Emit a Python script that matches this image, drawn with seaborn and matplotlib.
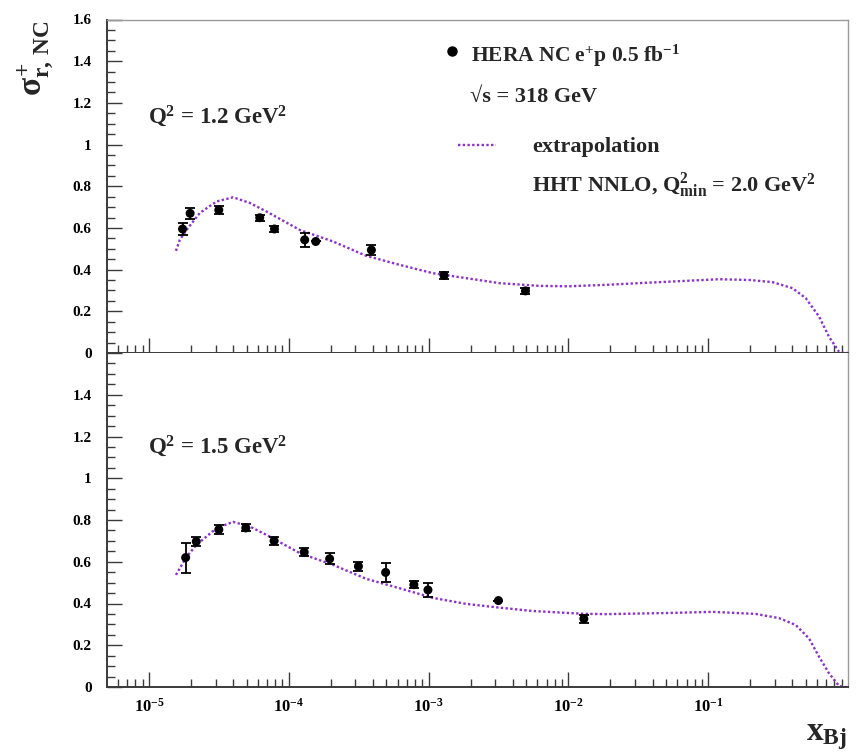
import matplotlib
matplotlib.use("Agg")
import matplotlib.pyplot as plt
import matplotlib.ticker as mticker
from matplotlib.lines import Line2D
import numpy as np
import seaborn as sns

# HERA data points
x_q12 = [1.74e-5, 1.97e-5, 3.16e-5, 6.2e-5, 7.9e-5, 1.3e-4, 1.56e-4, 3.9e-4, 1.29e-3, 4.93e-3]
y_q12 = [0.595, 0.67, 0.686, 0.649, 0.595, 0.543, 0.535, 0.494, 0.372, 0.298]
err_q12 = [0.03, 0.026, 0.02, 0.015, 0.015, 0.034, 0.0, 0.024, 0.015, 0.015]

x_q15 = [1.83e-5, 2.18e-5, 3.16e-5, 4.93e-5, 7.85e-5, 1.29e-4, 1.96e-4, 3.15e-4,
         4.93e-4, 7.85e-4, 9.9e-4, 3.16e-3, 1.29e-2]
y_q15 = [0.62, 0.697, 0.754, 0.762, 0.70, 0.646, 0.614, 0.578, 0.549, 0.49, 0.465, 0.414, 0.327]
err_q15 = [0.072, 0.022, 0.022, 0.017, 0.02, 0.02, 0.026, 0.02, 0.045, 0.017, 0.032, 0.0, 0.02]

# extrapolation curves (log10 x, sigma)
logx_c12 = [-4.807, -4.779, -4.73, -4.636, -4.516, -4.398, -4.279, -4.16, -3.92, -3.683,
            -3.445, -3.207, -2.97, -2.73, -2.49, -2.207, -2.0, -1.73, -1.5, -1.255,
            -0.92, -0.7, -0.54, -0.397, -0.302, -0.207, -0.136, -0.064, -0.03, 0.0]
y_c12 = [0.49, 0.543, 0.591, 0.672, 0.727, 0.747, 0.72, 0.679, 0.59, 0.535,
         0.466, 0.423, 0.383, 0.359, 0.335, 0.322, 0.32, 0.327, 0.335, 0.343,
         0.354, 0.35, 0.34, 0.311, 0.263, 0.175, 0.078, 0.006, 0.0, 0.0]

logx_c15 = [-4.807, -4.73, -4.66, -4.516, -4.398, -4.279, -4.16, -3.92, -3.683, -3.445,
            -3.207, -2.97, -2.73, -2.49, -2.256, -1.9, -1.73, -1.255, -0.97, -0.66,
            -0.493, -0.374, -0.279, -0.207, -0.136, -0.064, -0.03, 0.0]
y_c15 = [0.537, 0.625, 0.681, 0.761, 0.791, 0.769, 0.729, 0.641, 0.585, 0.518,
         0.473, 0.427, 0.398, 0.38, 0.364, 0.351, 0.349, 0.355, 0.36, 0.35,
         0.33, 0.297, 0.233, 0.145, 0.066, 0.005, 0.0, 0.0]

decades = [1e-5, 1e-4, 1e-3, 1e-2, 1e-1]
decade_labels = ["$10^{-5}$", "$10^{-4}$", "$10^{-3}$", "$10^{-2}$", "$10^{-1}$"]
y_major = [0, 0.2, 0.4, 0.6, 0.8, 1.0, 1.2, 1.4, 1.6]

purple = "#8c2fd0"
dark = "#3a3a3a"

sns.set_theme(style="ticks")
plt.rcParams["font.family"] = ["Liberation Serif", "DejaVu Serif"]
plt.rcParams["font.weight"] = "bold"
plt.rcParams["mathtext.fontset"] = "custom"
plt.rcParams["mathtext.rm"] = "Liberation Serif:bold"
plt.rcParams["mathtext.it"] = "Liberation Serif:bold"
plt.rcParams["mathtext.bf"] = "Liberation Serif:bold"
plt.rcParams["mathtext.sf"] = "Liberation Serif:bold"

fig = plt.figure(figsize=(8.59, 7.55), dpi=100)
W, H = 859, 755
left, right = 107 / W, 848 / W
ax_t = fig.add_axes([left, 1 - 353 / H, right - left, (353 - 19.5) / H])
ax_b = fig.add_axes([left, 1 - 687 / H, right - left, (687 - 353) / H])


def style_axis(ax, show_xlabels, ylabels):
    ax.set_xscale("log")
    ax.set_xlim(10 ** -5.3, 1.0)
    ax.set_ylim(0, 1.6)
    ax.xaxis.set_major_locator(mticker.FixedLocator(decades))
    ax.xaxis.set_minor_locator(mticker.LogLocator(base=10, subs=np.arange(2, 10), numticks=20))
    ax.xaxis.set_minor_formatter(mticker.NullFormatter())
    if show_xlabels:
        ax.xaxis.set_major_formatter(mticker.FixedFormatter(decade_labels))
    else:
        ax.xaxis.set_major_formatter(mticker.NullFormatter())
    ax.yaxis.set_major_locator(mticker.FixedLocator(y_major))
    ax.yaxis.set_major_formatter(mticker.FixedFormatter(ylabels))
    ax.yaxis.set_minor_locator(mticker.MultipleLocator(0.05))
    ax.tick_params(which="both", direction="in", top=False, right=False, colors=dark)
    ax.tick_params(which="major", length=11, width=1.0)
    ax.tick_params(which="minor", length=6, width=1.0)
    ax.tick_params(axis="y", which="major", pad=11, labelsize=11, labelcolor="black")
    ax.tick_params(axis="x", which="major", pad=8, labelsize=12, labelcolor="black")
    for s in ["left", "bottom"]:
        ax.spines[s].set_color(dark)
        ax.spines[s].set_linewidth(1.4)
    for s in ["top", "right"]:
        ax.spines[s].set_color("#9a9a9a")
        ax.spines[s].set_linewidth(1.0)
    ax.set_xlabel("")
    ax.set_ylabel("")


def draw_panel(ax, x, y, err, logx_c, y_c):
    sns.lineplot(x=10 ** np.array(logx_c), y=y_c, ax=ax, color=purple, sort=False,
                 estimator=None, linestyle=(0, (1, 1)), linewidth=1.7, zorder=2)
    ax.errorbar(x, y, yerr=err, fmt="none", ecolor="black", elinewidth=1.3,
                capsize=3.5, capthick=1.3, zorder=3)
    sns.scatterplot(x=x, y=y, ax=ax, color="black", s=42, edgecolor="none", zorder=4)


draw_panel(ax_t, x_q12, y_q12, err_q12, logx_c12, y_c12)
draw_panel(ax_b, x_q15, y_q15, err_q15, logx_c15, y_c15)

labels_t = ["0", "0.2", "0.4", "0.6", "0.8", "1", "1.2", "1.4", "1.6"]
labels_b = ["0", "0.2", "0.4", "0.6", "0.8", "1", "1.2", "1.4", ""]
style_axis(ax_t, False, labels_t)
style_axis(ax_b, True, labels_b)
ax_b.spines["top"].set_visible(False)

fs = 16
# panel labels
fig.text(148 / W, 1 - 123 / H, r"Q$^{2}$ = 1.2 GeV$^{2}$", fontsize=fs + 0.5, va="baseline")
fig.text(148 / W, 1 - 453 / H, r"Q$^{2}$ = 1.5 GeV$^{2}$", fontsize=fs + 0.5, va="baseline")

# legend
fig.add_artist(Line2D([452 / W], [1 - 50.7 / H], marker="o", color="black",
                      markersize=6.5, linestyle="none", transform=fig.transFigure))
fig.text(471 / W, 1 - 62 / H, r"HERA NC e$^{+}$p 0.5 fb$^{-1}$", fontsize=fs - 0.5, va="baseline")
fig.text(470 / W, 1 - 102 / H, "√s = 318 GeV", fontsize=fs, va="baseline")
fig.add_artist(Line2D([458 / W, 496 / W], [1 - 145 / H, 1 - 145 / H], color=purple,
                      linestyle=(0, (1, 1)), linewidth=1.7, transform=fig.transFigure))
fig.text(532 / W, 1 - 152 / H, "extrapolation", fontsize=fs, va="baseline")
fig.text(532 / W, 1 - 192 / H, r"HHT NNLO, Q$^{2}_{\rm min}$ = 2.0 GeV$^{2}$",
         fontsize=fs, va="baseline")

# axis titles
fig.text(36 / W, 1 - 58 / H, r"$\sigma^{+}_{\rm r,\,NC}$", fontsize=24, rotation=90,
         ha="center", va="center")
fig.text(847 / W, 1 - 737 / H, r"$\rm x_{Bj}$", fontsize=24, ha="right", va="center")

fig.savefig("out.png", dpi=100)
